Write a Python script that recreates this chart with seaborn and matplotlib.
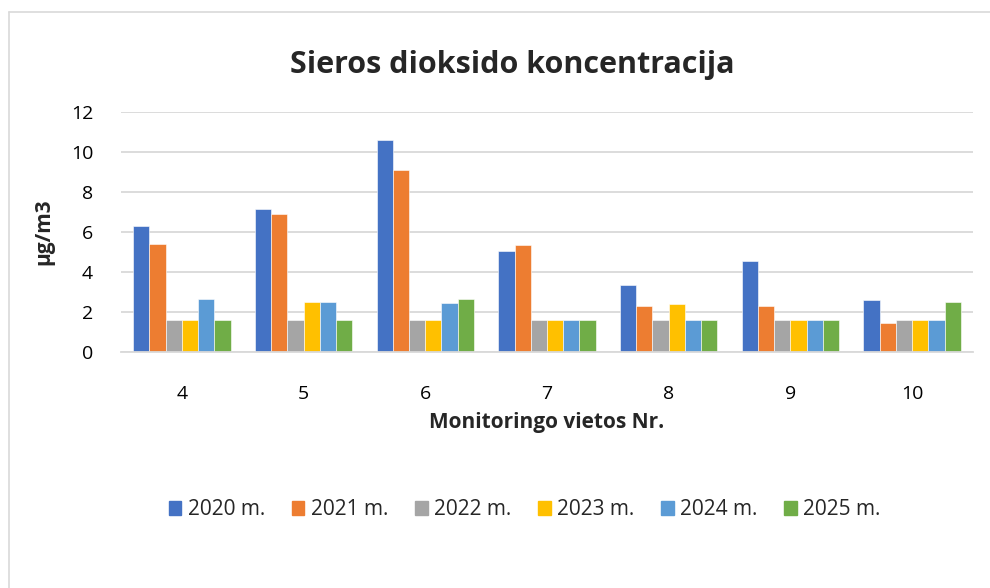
import matplotlib
matplotlib.use('Agg')
import matplotlib.pyplot as plt
import matplotlib.patches as mpatches
import pandas as pd
import seaborn as sns

# monitoring sites and years
vietos = ['4', '5', '6', '7', '8', '9', '10']
metai = ['2020 m.', '2021 m.', '2022 m.', '2023 m.', '2024 m.', '2025 m.']

v2020 = [6.3, 7.15, 10.6, 5.05, 3.35, 4.55, 2.6]
v2021 = [5.4, 6.9, 9.1, 5.35, 2.3, 2.3, 1.45]
v2022 = [1.6, 1.6, 1.6, 1.6, 1.6, 1.6, 1.6]
v2023 = [1.6, 2.5, 1.6, 1.6, 2.4, 1.6, 1.6]
v2024 = [2.65, 2.5, 2.45, 1.6, 1.6, 1.6, 1.6]
v2025 = [1.6, 1.6, 2.65, 1.6, 1.6, 1.6, 2.5]

spalvos = ['#4472C4', '#ED7D31', '#A5A5A5', '#FFC000', '#5B9BD5', '#70AD47']

rows = []
for m, vals in zip(metai, [v2020, v2021, v2022, v2023, v2024, v2025]):
    for vt, val in zip(vietos, vals):
        rows.append({'vieta': vt, 'metai': m, 'reiksme': val})
df = pd.DataFrame(rows)

sns.set_style('white')
plt.rcParams['font.family'] = ['Open Sans', 'DejaVu Sans']

fig = plt.figure(figsize=(9.9, 5.88), dpi=100)
ax = fig.add_axes([0.1222, 0.4014, 0.8606, 0.4081])

sns.barplot(data=df, x='vieta', y='reiksme', hue='metai', order=vietos,
            hue_order=metai, palette=spalvos, saturation=1, width=0.8, gap=0,
            edgecolor='white', linewidth=0.4, ax=ax, legend=False)

ax.set_ylim(0, 12)
ax.set_xlim(-0.5, len(vietos) - 0.5)
ax.set_yticks(range(0, 13, 2))
ax.yaxis.grid(True, color='#d9d9d9', linewidth=1.3)
ax.set_axisbelow(True)
for s in ['top', 'right', 'left']:
    ax.spines[s].set_visible(False)
ax.spines['bottom'].set_color('#d9d9d9')
ax.spines['bottom'].set_linewidth(1.3)
ax.tick_params(axis='both', length=0, labelsize=14, colors='#000000')
ax.tick_params(axis='x', pad=24)
ax.tick_params(axis='y', pad=20)

ax.set_xlabel('Monitoringo vietos Nr.', fontsize=15, fontweight='bold', labelpad=6)
ax.set_ylabel('µg/m3', fontsize=15, fontweight='bold', labelpad=12)

fig.text(0.5171, 0.889, 'Sieros dioksido koncentracija', ha='center', va='center',
         fontsize=22, fontweight='bold')

handles = [mpatches.Patch(color=c, label=m) for c, m in zip(spalvos, metai)]
fig.legend(handles=handles, loc='center', bbox_to_anchor=(0.530, 0.133), ncol=6,
           frameon=False, fontsize=15, handlelength=0.6, handleheight=0.6,
           handletextpad=0.3, columnspacing=1.3)

# outer chart border
fig.add_artist(plt.Line2D([0.009, 1.0], [0.98, 0.98], color='#d9d9d9', linewidth=1.2))
fig.add_artist(plt.Line2D([0.009, 0.009], [0.0, 0.98], color='#d9d9d9', linewidth=1.2))

fig.savefig('out.png', dpi=100, facecolor='white')
